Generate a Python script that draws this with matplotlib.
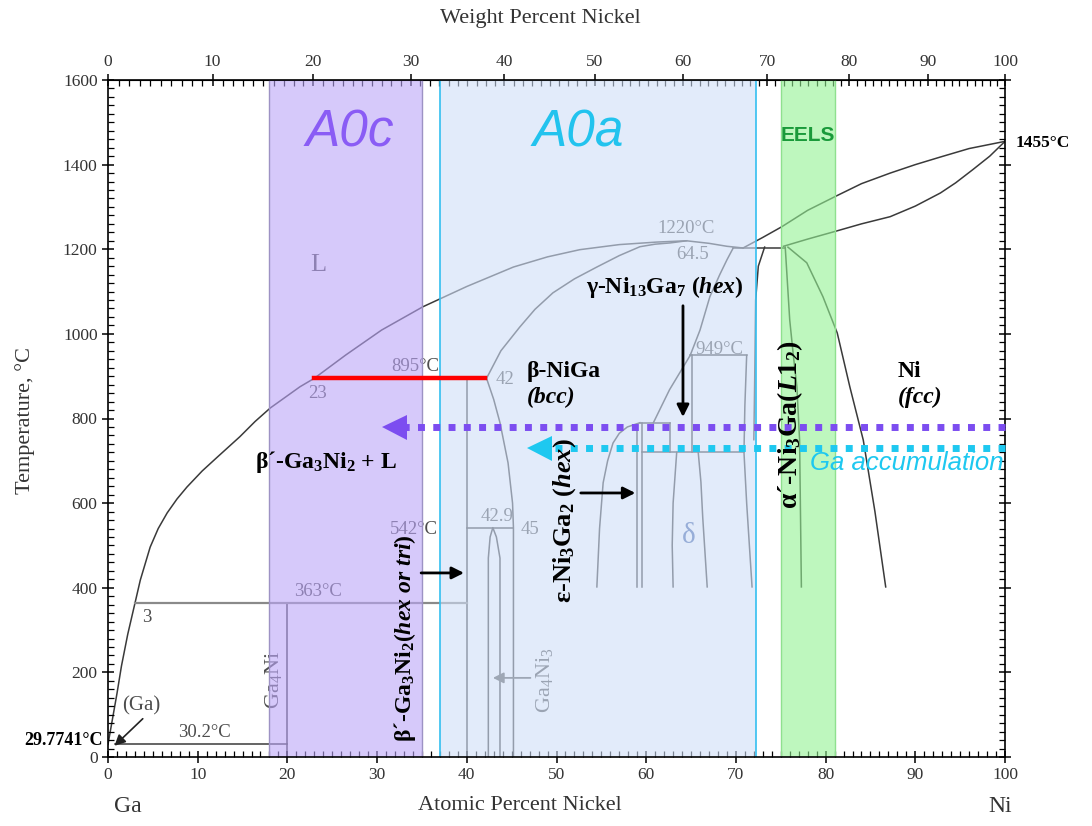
import numpy as np
import matplotlib.pyplot as plt
from matplotlib.ticker import MultipleLocator, FixedLocator

plt.rcParams['font.family'] = ['Liberation Serif', 'DejaVu Serif']
plt.rcParams['mathtext.fontset'] = 'custom'
plt.rcParams['mathtext.rm'] = 'Liberation Serif:bold'
plt.rcParams['mathtext.it'] = 'Liberation Serif:italic:bold'
plt.rcParams['mathtext.bf'] = 'Liberation Serif:bold'
plt.rcParams['mathtext.default'] = 'regular'

M_NI, M_GA = 58.693, 69.723

# --- phase boundaries (at.% Ni, deg C) ---
liq_x = [0.0, 0.5, 1.0, 1.5, 2.2, 3.0, 3.6, 4.7, 5.6, 6.6, 7.7, 8.8, 10.5, 12.2, 14.7,
         16.4, 18.1, 21.4, 23.0, 26.5, 30.5, 35.1, 40.0, 45.2, 49.0, 52.6, 57.0,
         61.2, 64.5, 67.0, 69.0, 70.8]
liq_t = [29.8, 90, 150, 215, 290, 363, 418, 496, 540, 577, 610, 638, 676, 709, 757,
         793, 825, 875, 895, 950, 1009, 1064, 1112, 1158, 1182, 1199, 1211,
         1217, 1220, 1214, 1207, 1203]

ni_liq_x = [70.8, 73.0, 75.1, 78.0, 81.2, 84.0, 87.2, 90.0, 92.8, 96.0, 100]
ni_liq_t = [1203, 1228, 1253, 1292, 1326, 1355, 1380, 1400, 1418, 1438, 1455]
ni_sol_x = [75.3, 78.0, 81.2, 84.0, 87.2, 90.0, 92.8, 94.5, 96.4, 98.3, 100]
ni_sol_t = [1207, 1224, 1243, 1260, 1277, 1302, 1333, 1357, 1388, 1420, 1455]

beta_up_x = [42.2, 43.8, 45.9, 47.6, 49.6, 52.0, 54.5, 57.0, 59.3, 61.0, 62.7, 64.5]
beta_up_t = [895, 960, 1016, 1058, 1097, 1130, 1158, 1185, 1206, 1212, 1215, 1220]
beta_lo_x = [42.2, 43.0, 43.7, 44.6, 45.1, 45.2, 45.2]
beta_lo_t = [895, 845, 790, 695, 600, 542, 0]

ga4ni3_x = [42.4, 42.4, 42.6, 42.9, 43.3, 43.7, 43.7]
ga4ni3_t = [0, 470, 520, 542, 520, 470, 0]

eps_x = [54.5, 54.8, 55.2, 55.7, 56.3, 57.0, 57.9, 59.3]
eps_t = [402, 540, 648, 700, 742, 765, 780, 790]

gam_beta_x = [60.8, 62.6, 64.9]
gam_beta_t = [790, 868, 949]
gam_left_x = [64.9, 66.0, 67.1, 68.2, 69.0, 69.7]
gam_left_t = [949, 1009, 1088, 1140, 1175, 1203]

delta_l_x = [63.4, 63.0, 62.9, 63.0]
delta_l_t = [720, 600, 500, 402]
delta_r_x = [65.8, 66.1, 66.3, 66.8]
delta_r_t = [720, 650, 567, 402]
delta_edge_x = [71.2, 71.0, 70.9, 71.2, 71.8]
delta_edge_t = [949, 830, 720, 600, 402]

alpha_l_x = [73.2, 72.5, 72.2, 72.1, 72.0]
alpha_l_t = [1205, 1160, 1080, 900, 750]
alpha_r_x = [75.5, 76.0, 76.4, 76.8, 77.1, 77.3]
alpha_r_t = [1205, 1033, 950, 875, 749, 402]
ni_fcc_x = [75.8, 77.9, 79.7, 81.3, 82.7, 84.2, 85.5, 86.7]
ni_fcc_t = [1205, 1168, 1088, 1002, 875, 749, 580, 402]

# straight segments: x0, x1, t0, t1
seg_x0 = [0.8, 20.0, 40.0, 40.0, 59.0, 59.5, 59.3, 62.7, 59.5, 65.1, 64.9, 69.7]
seg_x1 = [20.0, 20.0, 40.0, 45.2, 59.0, 59.5, 62.7, 62.7, 70.9, 65.1, 71.2, 75.5]
seg_t0 = [30.2, 0, 0, 542, 402, 402, 790, 720, 720, 720, 949, 1203]
seg_t1 = [30.2, 363, 895, 542, 785, 790, 790, 790, 720, 949, 949, 1203]
peritectic_363 = [3.0, 40.0, 363]

# highlighted composition windows (at.% Ni)
a0c_range = [18, 35]
a0a_range = [37, 72.2]
eels_range = [75, 81]

# red tie line and measurement arrows
tie_895 = [23, 42, 895]
purple_arrow = [100, 30.9, 780]
cyan_arrow = [100, 47.0, 730]


def at2wt(a):
    a = np.asarray(a, dtype=float)
    return 100 * a * M_NI / (a * M_NI + (100 - a) * M_GA)


def wt2at(w):
    w = np.asarray(w, dtype=float)
    return 100 * (w / M_NI) / (w / M_NI + (100 - w) / M_GA)


fig = plt.figure(figsize=(10.92, 8.26), dpi=100)
ax = fig.add_axes([108 / 1092, 69 / 826, 897 / 1092, 677 / 826])
ax.set_xlim(0, 100)
ax.set_ylim(0, 1600)

lc = '#3a3a3a'
lw = 1.1
for xs, ts in [(liq_x, liq_t), (ni_liq_x, ni_liq_t), (ni_sol_x, ni_sol_t),
               (beta_up_x, beta_up_t), (beta_lo_x, beta_lo_t), (ga4ni3_x, ga4ni3_t),
               (eps_x, eps_t), (gam_beta_x, gam_beta_t), (gam_left_x, gam_left_t),
               (delta_l_x, delta_l_t), (delta_r_x, delta_r_t),
               (delta_edge_x, delta_edge_t), (alpha_l_x, alpha_l_t),
               (alpha_r_x, alpha_r_t), (ni_fcc_x, ni_fcc_t)]:
    ax.plot(xs, ts, color=lc, lw=lw, zorder=1)
for x0, x1, t0, t1 in zip(seg_x0, seg_x1, seg_t0, seg_t1):
    ax.plot([x0, x1], [t0, t1], color=lc, lw=lw, zorder=1)
ax.plot(peritectic_363[:2], [peritectic_363[2]] * 2, color='#8a8a8a', lw=1.6, zorder=1)

# labels of the underlying diagram (drawn under the colour windows)
g = '#4d4d4d'
small = dict(color=g, fontsize=13.5, ha='center', va='center', zorder=1)
ax.text(23.4, 1163, 'L', color=g, fontsize=19, ha='center', va='center', zorder=1)
ax.text(64.5, 1248, '1220°C', **small)
ax.text(65.2, 1187, '64.5', **small)
ax.text(34.2, 922, '895°C', **small)
ax.text(23.4, 860, '23', **small)
ax.text(44.3, 891, '42', **small)
ax.text(68.2, 964, '949°C', **small)
ax.text(34.1, 537, '542°C', **small)
ax.text(43.4, 568, '42.9', **small)
ax.text(47.1, 537, '45', **small)
ax.text(23.4, 390, '363°C', **small)
ax.text(4.3, 330, '3', **small)
ax.text(3.7, 122, '(Ga)', color=g, fontsize=15, ha='center', va='center', zorder=1)
ax.text(10.8, 58, '30.2°C', **small)
ax.text(64.7, 523, 'δ', color='#4466aa', fontsize=21, ha='center', va='center', zorder=1)
ax.text(18.4, 182, 'Ga$_4$Ni', color=g, fontsize=16, rotation=90,
        ha='center', va='center', zorder=1)
ax.text(48.7, 182, 'Ga$_4$Ni$_3$', color=g, fontsize=16, rotation=90,
        ha='center', va='center', zorder=1)
ax.annotate('', xy=(42.6, 187), xytext=(47.4, 187), zorder=1,
            arrowprops=dict(arrowstyle='-|>', color='#555555', lw=1.3, mutation_scale=16))
ax.annotate('', xy=(0.5, 22), xytext=(4.1, 95), zorder=1,
            arrowprops=dict(arrowstyle='-|>', color='#222222', lw=1.2, mutation_scale=16))

# colour windows
ax.axvspan(*a0c_range, color='#bba5f8', alpha=0.6, lw=0, zorder=2)
ax.axvspan(*a0a_range, color='#cfdef7', alpha=0.6, lw=0, zorder=2)
ax.axvspan(*eels_range, color='#93f293', alpha=0.6, lw=0, zorder=2)
for x in a0c_range:
    ax.axvline(x, color='#9d92c4', lw=1.0, zorder=2.1)
for x in a0a_range:
    ax.axvline(x, color='#33bff0', lw=1.2, zorder=2.1)
for x in eels_range:
    ax.axvline(x, color='#8fe08f', lw=1.0, zorder=2.1)

ax.text(27, 1475, 'A0c', family='Liberation Sans', style='italic', fontsize=37,
        color='#8a5cf5', ha='center', va='center', zorder=5)
ax.text(52.4, 1475, 'A0a', family='Liberation Sans', style='italic', fontsize=37,
        color='#22c3ee', ha='center', va='center', zorder=5)
ax.text(78, 1470, 'EELS', family='Liberation Sans', weight='bold', fontsize=15,
        color='#1a9a3a', ha='center', va='center', zorder=5)

# red tie line and dotted arrows
ax.plot(tie_895[:2], [tie_895[2]] * 2, color='#ff0000', lw=3.2, zorder=4)
for arr, col in [(purple_arrow, '#7c4df0'), (cyan_arrow, '#1ec8f0')]:
    ax.plot([arr[0], arr[1] + 1.8], [arr[2], arr[2]], color=col, lw=5,
            linestyle=(0, (1, 1.2)), dash_capstyle='butt', zorder=4, clip_on=False)
    ax.plot(arr[1] + 1.0, arr[2], marker='<', markersize=18, color=col,
            markeredgewidth=0, zorder=4)

# phase names
bold = dict(weight='bold', color='k', zorder=5)
ax.text(62.1, 1111, 'γ-Ni$_{13}$Ga$_7$ $\\mathit{(hex)}$', fontsize=17,
        ha='center', va='center', **bold)
ax.text(46.7, 910, 'β-NiGa', fontsize=17, ha='left', va='center', **bold)
ax.text(46.7, 849, '(bcc)', fontsize=17, style='italic', ha='left', va='center', **bold)
ax.text(88.0, 910, 'Ni', fontsize=17, ha='left', va='center', **bold)
ax.text(88.0, 849, '(fcc)', fontsize=17, style='italic', ha='left', va='center', **bold)
ax.text(16.4, 697, 'β´-Ga$_3$Ni$_2$ + L', fontsize=17, ha='left', va='center', **bold)
ax.text(33.1, 282, 'β´-Ga$_3$Ni$_2\\mathit{(hex\\ or\\ tri)}$', fontsize=17, rotation=90,
        ha='center', va='center', **bold)
ax.text(50.9, 558, 'ε-Ni$_3$Ga$_2$ $\\mathit{(hex)}$', fontsize=19, rotation=90,
        ha='center', va='center', **bold)
ax.text(76.0, 785, 'α´-Ni$_3$Ga$\\mathit{(L1_2)}$', fontsize=20, rotation=90,
        ha='center', va='center', **bold)
ax.text(78.3, 695, 'Ga accumulation', family='Liberation Sans', style='italic',
        fontsize=18.5, color='#1ec8f0', ha='left', va='center', zorder=5)

arrow_k = dict(arrowstyle='-|>', color='k', lw=2, mutation_scale=18)
ax.annotate('', xy=(64.1, 797), xytext=(64.1, 1073), arrowprops=arrow_k, zorder=5)
ax.annotate('', xy=(59.1, 624), xytext=(52.4, 624), arrowprops=arrow_k, zorder=5)
ax.annotate('', xy=(40.0, 435), xytext=(34.6, 435), arrowprops=arrow_k, zorder=5)

ax.text(-0.6, 38, '29.7741°C', weight='bold', fontsize=13, ha='right', va='center',
        clip_on=False)
ax.text(101.2, 1452, '1455°C', weight='bold', fontsize=12.5, ha='left', va='center',
        clip_on=False)

# axes and ticks
ax.xaxis.set_major_locator(MultipleLocator(10))
ax.xaxis.set_minor_locator(MultipleLocator(1))
ax.yaxis.set_major_locator(MultipleLocator(200))
ax.yaxis.set_minor_locator(MultipleLocator(20))
ax.tick_params(which='major', direction='inout', length=8, width=1.1, right=True,
               labelsize=12.5, labelcolor='#333333')
ax.tick_params(which='minor', direction='in', length=4, width=0.9, right=True)
for s in ax.spines.values():
    s.set_linewidth(1.2)

sec = ax.secondary_xaxis('top', functions=(at2wt, wt2at))
sec.set_xticks(np.arange(0, 101, 10))
sec.xaxis.set_minor_locator(FixedLocator(np.arange(0, 101, 1)))
sec.tick_params(which='major', direction='inout', length=8, width=1.1,
                labelsize=12.5, labelcolor='#333333')
sec.tick_params(which='minor', direction='in', length=4, width=0.9)

fig.text(540 / 1092, 1 - 18 / 826, 'Weight Percent Nickel', fontsize=16, color='#333333',
         ha='center', va='center')
fig.text(520 / 1092, 1 - 806 / 826, 'Atomic Percent Nickel', fontsize=16, color='#333333',
         ha='center', va='center')
fig.text(128 / 1092, 1 - 806 / 826, 'Ga', fontsize=17, color='#333333', ha='center', va='center')
fig.text(1000 / 1092, 1 - 806 / 826, 'Ni', fontsize=17, color='#333333', ha='center', va='center')
fig.text(25 / 1092, 1 - 420 / 826, 'Temperature, °C', fontsize=16, color='#333333',
         rotation=90, ha='center', va='center')

fig.savefig('out.png', dpi=100)
